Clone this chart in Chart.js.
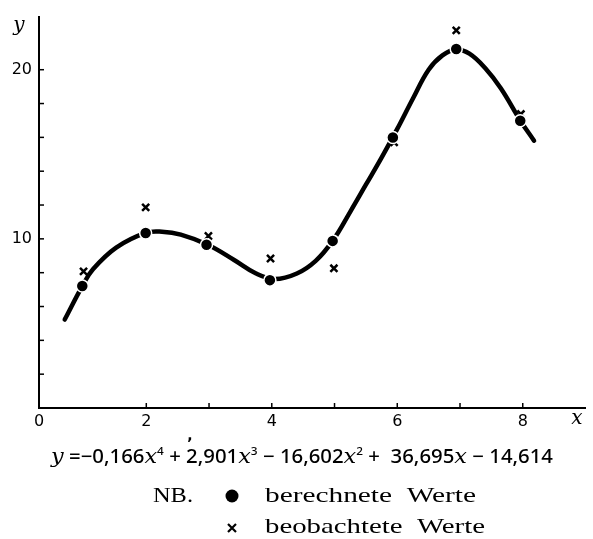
<!DOCTYPE html>
<html>
<head>
<meta charset="utf-8">
<script src="https://cdn.jsdelivr.net/npm/chart.js@4.4.1/dist/chart.umd.min.js"></script>
<style>
  html, body { margin: 0; padding: 0; background: #fff; }
  #wrap { width: 593px; height: 539px; }
</style>
</head>
<body>
<div id="wrap"><canvas id="fitChart" width="593" height="539"></canvas></div>
<script>
// berechnete Werte (dots)
const calcX = [0.98, 1.99, 2.96, 3.97, 4.97, 5.93, 6.94, 7.96];
const calcY = [7.21, 10.35, 9.65, 7.56, 9.88, 15.99, 21.22, 16.98];
// beobachtete Werte (crosses)
const obsX = [1.0, 1.99, 2.99, 3.98, 4.99, 5.95, 6.94, 7.97];
const obsY = [8.08, 11.86, 10.17, 8.84, 8.26, 15.70, 22.33, 17.38];
// fitted curve
const curveX = [0.70, 0.98, 1.15, 1.52, 1.99, 2.25, 2.55, 2.98, 3.40, 3.75, 4.05, 4.40, 4.70, 4.97, 5.25, 5.50, 5.75, 6.00, 6.25, 6.50, 6.72, 6.94, 7.15, 7.40, 7.65, 7.96, 8.18];
const curveY = [5.23, 7.21, 8.20, 9.48, 10.35, 10.42, 10.25, 9.65, 8.75, 7.95, 7.62, 7.95, 8.70, 9.88, 11.60, 13.20, 14.80, 16.50, 18.30, 20.00, 20.85, 21.20, 20.95, 20.10, 18.90, 17.00, 15.80];

const xTickLabels = ['0', '2', '4', '6', '8'];
const yTickLabels = ['10', '20'];
const xMin = 0.29, xMax = 9.0, yMin = 0, yMax = 23.14;

const toPoints = (xs, ys) => xs.map((x, i) => ({ x: x, y: ys[i] }));

// text, inner tick marks, formula and the NB. legend
const extrasPlugin = {
    id: 'extras',
    afterDraw(chart) {
        const ctx = chart.ctx;
        const xs = chart.scales.x, ys = chart.scales.y;
        ctx.save();
        ctx.strokeStyle = '#000';
        ctx.fillStyle = '#000';
        ctx.lineWidth = 1.5;
        // tick marks pointing inward
        xs.ticks.forEach(t => {
            if (t.value >= 1 && t.value <= 8 && Number.isInteger(t.value)) {
                const px = xs.getPixelForValue(t.value);
                ctx.beginPath();
                ctx.moveTo(px, ys.bottom);
                ctx.lineTo(px, ys.bottom - 5);
                ctx.stroke();
            }
        });
        ys.ticks.forEach(t => {
            if (t.value >= 2 && t.value <= 20 && Number.isInteger(t.value)) {
                const py = ys.getPixelForValue(t.value);
                ctx.beginPath();
                ctx.moveTo(xs.left, py);
                ctx.lineTo(xs.left + 5, py);
                ctx.stroke();
            }
        });

        // axis names
        ctx.font = 'italic 20px "DejaVu Serif"';
        ctx.textAlign = 'center';
        ctx.textBaseline = 'middle';
        ctx.fillText('y', 19, 26);
        ctx.fillText('x', 577, 419);
        ctx.font = 'bold 14px "DejaVu Sans"';
        ctx.fillText(',', 190, 436);

        // formula
        const pieces = [
            ['y', 'i'], [' =\u22120,166', 'n'], ['x', 'i'], ['4', 's'],
            [' + 2,901', 'n'], ['x', 'i'], ['3', 's'],
            [' \u2212 16,602', 'n'], ['x', 'i'], ['2', 's'],
            [' +  36,695', 'n'], ['x', 'i'], [' \u2212 14,614', 'n']
        ];
        const fonts = {
            n: '500 19px "Noto Sans"',
            i: 'italic 21px "DejaVu Serif"',
            s: '500 11px "Noto Sans"'
        };
        let total = 0;
        pieces.forEach(p => { ctx.font = fonts[p[1]]; total += ctx.measureText(p[0]).width; });
        const fLeft = 51, fRight = 553, fBase = 463;
        ctx.translate(fLeft, fBase);
        ctx.scale((fRight - fLeft) / total, 1);
        ctx.textAlign = 'left';
        ctx.textBaseline = 'alphabetic';
        let cx = 0;
        pieces.forEach(p => {
            ctx.font = fonts[p[1]];
            ctx.fillText(p[0], cx, p[1] === 's' ? -8 : 0);
            cx += ctx.measureText(p[0]).width;
        });
        ctx.setTransform(1, 0, 0, 1, 0, 0);

        // NB. legend
        const fitText = (text, left, base, width, font) => {
            ctx.font = font;
            const w = ctx.measureText(text).width;
            ctx.save();
            ctx.translate(left, base);
            ctx.scale(width / w, 1);
            ctx.fillText(text, 0, 0);
            ctx.restore();
        };
        const serif = '21px "Liberation Serif"';
        fitText('NB.', 153, 502, 40, serif);
        fitText('berechnete  Werte', 265, 502, 211, serif);
        fitText('beobachtete  Werte', 265, 533, 220, serif);
        ctx.beginPath();
        ctx.arc(232, 496, 6.5, 0, Math.PI * 2);
        ctx.fill();
        ctx.lineWidth = 2.2;
        ctx.beginPath();
        ctx.moveTo(228, 524); ctx.lineTo(236, 532);
        ctx.moveTo(236, 524); ctx.lineTo(228, 532);
        ctx.stroke();
        ctx.restore();
    }
};

new Chart(document.getElementById('fitChart'), {
    type: 'scatter',
    data: {
        datasets: [
            {
                label: 'Kurve',
                type: 'line',
                data: toPoints(curveX, curveY),
                borderColor: '#000',
                borderWidth: 4.5,
                borderCapStyle: 'round',
                pointRadius: 0,
                tension: 0.4,
                fill: false,
                order: 3
            },
            {
                label: 'beobachtete Werte',
                data: toPoints(obsX, obsY),
                pointStyle: 'crossRot',
                pointRadius: 5,
                borderColor: '#000',
                borderWidth: 2.5,
                order: 2
            },
            {
                label: 'berechnete Werte',
                data: toPoints(calcX, calcY),
                pointStyle: 'circle',
                pointRadius: 6,
                backgroundColor: '#000',
                borderColor: '#fff',
                borderWidth: 1.5,
                order: 1
            }
        ]
    },
    options: {
        responsive: false,
        devicePixelRatio: 1,
        animation: false,
        layout: { padding: { top: 10, right: 0, bottom: 101, left: 0 } },
        plugins: {
            legend: { display: false },
            tooltip: { enabled: false }
        },
        scales: {
            x: {
                type: 'linear',
                min: xMin,
                max: xMax,
                afterFit(scale) { scale.height = 30; },
                grid: { display: false, drawTicks: false },
                border: { display: true, color: '#000', width: 2 },
                ticks: {
                    stepSize: 1,
                    autoSkip: false,
                    maxRotation: 0,
                    padding: 4,
                    color: '#000',
                    font: { family: 'DejaVu Sans', size: 16 },
                    callback: function(v, i) {
                        const label = i === 0 ? '0' : String(v);
                        return xTickLabels.includes(label) ? label : '';
                    }
                }
            },
            y: {
                min: yMin,
                max: yMax,
                afterFit(scale) { scale.width = 39; },
                grid: { display: false, drawTicks: false },
                border: { display: true, color: '#000', width: 2 },
                ticks: {
                    stepSize: 2,
                    autoSkip: false,
                    padding: 7,
                    color: '#000',
                    font: { family: 'DejaVu Sans', size: 16 },
                    callback: v => yTickLabels.includes(String(v)) ? String(v) : ''
                }
            }
        }
    },
    plugins: [extrasPlugin]
});
</script>
</body>
</html>
